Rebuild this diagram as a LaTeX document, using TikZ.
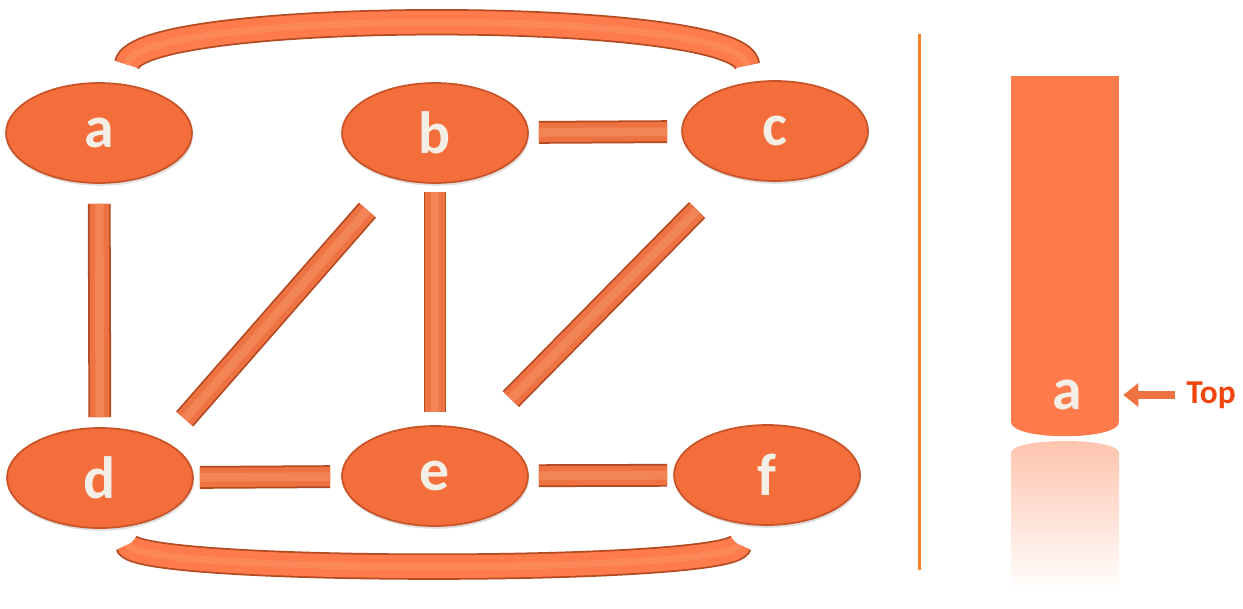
\documentclass[tikz,border=0pt]{standalone}
\usepackage{fontspec}
\setmainfont{Carlito}
\usepackage{xcolor}
\usetikzlibrary{positioning, shapes.geometric, arrows.meta, calc, shadows}
\definecolor{nodo}{HTML}{F36E3A}
\definecolor{borde}{HTML}{C95429}
\definecolor{letra}{HTML}{F4EFE6}
\definecolor{barra}{HTML}{EF7242}
\definecolor{barraosc}{HTML}{B34A22}
\definecolor{barraclara}{HTML}{F89A6C}
\definecolor{pila}{HTML}{FF7B4C}
\definecolor{reflejo}{HTML}{FFC3AC}
\definecolor{rotulo}{HTML}{F0470E}
\definecolor{separador}{HTML}{FF8022}

\begin{document}
\begin{tikzpicture}[
    x=0.02cm, y=-0.02cm,
    vertex/.style={
        ellipse,
        draw=borde,
        line width=1pt,
        fill=nodo,
        minimum width=3.72cm,
        minimum height=2cm,
        inner sep=0pt,
        text=letra,
        font=\fontsize{34}{36}\selectfont\bfseries,
        drop shadow={opacity=0.25, shadow xshift=0.6pt, shadow yshift=-1.6pt},
    },
    link/.style={
        draw=barraosc,
        line width=13pt,
        postaction={draw=barra, line width=11pt},
        postaction={draw=barra!55!barraclara, line width=5pt},
    },
    archlink/.style={
        draw=barraosc,
        line width=15pt,
        postaction={draw=pila, line width=13pt},
        postaction={draw=pila!60!barraclara, line width=4pt},
    },
    stackbox/.style={
        rectangle,
        fill=pila,
        minimum width=2.16cm,
        minimum height=6.92cm,
        inner sep=0pt,
    },
    stackletter/.style={text=letra, font=\fontsize{34}{36}\selectfont\bfseries},
    toplabel/.style={text=rotulo, inner sep=0pt, font=\fontsize{19}{21}\selectfont\bfseries},
    toparrow/.style={-{Triangle[length=0.3cm, width=0.46cm]}, line width=0.16cm, draw=barra},
]
\useasboundingbox (0,0) rectangle (1243,608);

% graph
\node[vertex] (a) at (99,133)  {a};
\node[vertex] (b) at (435,133) {b};
\node[vertex] (c) at (775,131) {c};
\node[vertex] (d) at (100,478) {d};
\node[vertex] (e) at (435,476) {e};
\node[vertex] (f) at (767,475) {f};

\draw[link, shorten <=0.4cm,  shorten >=0.2cm]  (a) -- (d);
\draw[link, shorten <=1.57cm, shorten >=0.83cm] ($(d)+(33,0)$) -- (b);
\draw[link, shorten <=0.16cm, shorten >=0.26cm] (b) -- (e);
\draw[link, shorten <=0.9cm,  shorten >=0.96cm] (e) -- (c);
\draw[link, shorten <=0.2cm,  shorten >=0.28cm] (b) -- (c);
\draw[link, shorten <=0.12cm, shorten >=0.22cm] (d) -- (e);
\draw[link, shorten <=0.2cm,  shorten >=0.12cm] (e) -- (f);

\draw[archlink] (a.60) ++(0,-20) .. controls (135,8) and (745,8) .. ($(c.120)+(0,-17)$);
\draw[archlink] (d.-60) ++(0,18) .. controls (132,574) and (735,574) .. ($(f.-120)+(0,21)$);

% separator
\draw[separador, line width=1.7pt] (919,34) -- (919,570);

% stack
\node[stackbox] (stack) at (1065,249) {};
\fill[pila] (stack.south west) .. controls +(0,19) and +(0,19) .. (stack.south east) -- cycle;
\shade[top color=reflejo, bottom color=white]
    (1011,592) -- (1011,453) .. controls (1011,437) and (1119,437) .. (1119,453) -- (1119,592) -- cycle;
\node[stackletter] (topel) at (1067,395) {a};
\node[toplabel] (toplbl) at (1211,395) {Top};
\draw[toparrow, shorten <=0.22cm, shorten >=0.08cm] (toplbl.west) -- (stack.east |- toplbl.west);

\end{tikzpicture}
\end{document}
